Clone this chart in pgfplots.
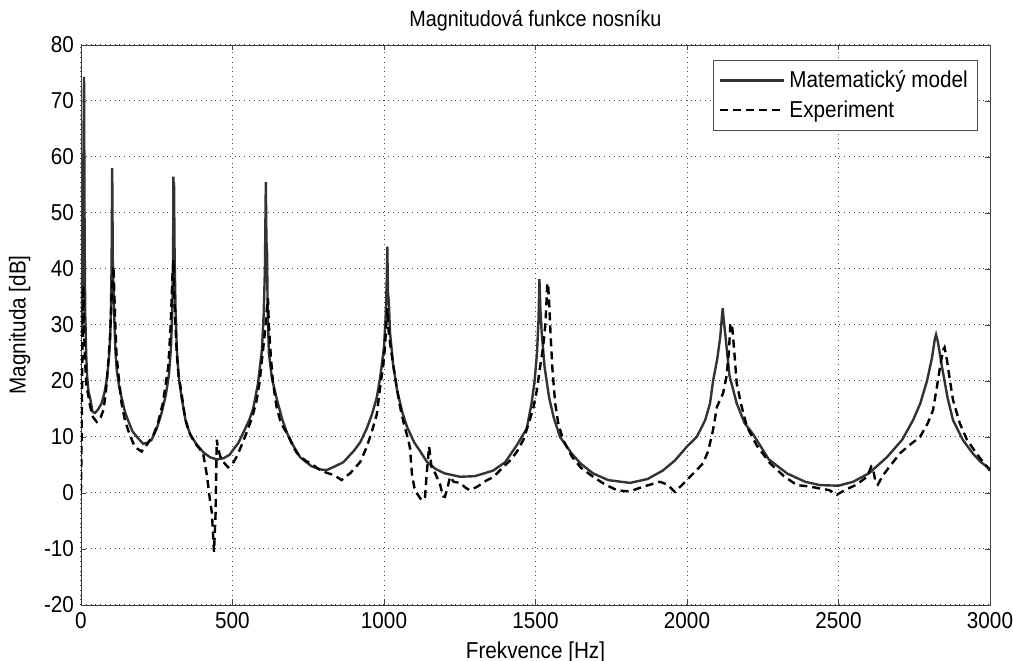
\documentclass[border=0pt]{standalone}
\usepackage{fontspec}
\setmainfont{Liberation Sans}[FakeStretch=0.9]
\usepackage{pgfplots}
\pgfplotsset{compat=1.18}

\definecolor{modelgray}{gray}{0.2}

\begin{document}
\begin{tikzpicture}
\begin{axis}[
    scale only axis,
    width=454.5pt, height=280pt,
    xmin=0, xmax=3000,
    ymin=-20, ymax=80,
    xtick={0,500,...,3000},
    ytick={-20,-10,...,80},
    /pgf/number format/assume math mode=true,
    /pgf/number format/set thousands separator={},
    ticklabel style={font=\fontsize{11.5}{13}\selectfont},
    label style={font=\fontsize{11.5}{13}\selectfont},
    title style={font=\fontsize{11}{13}\selectfont, yshift=-2.5pt},
    title={Magnitudová funkce nosníku},
    xlabel={Frekvence [Hz]},
    ylabel={Magnituda [dB]},
    axis line style={black!75},
    tick style={black!75},
    tick align=inside,
    major tick length=2.5pt,
    grid=major,
    major grid style={dotted, black!70, line width=0.5pt},
    legend style={at={(0.987,0.973)}, anchor=north east, draw=black!70,
        font=\fontsize{11.5}{13}\selectfont, cells={anchor=west},
        row sep=1pt, inner sep=3pt},
    legend image code/.code={\draw[#1] (0pt,0pt) -- (32pt,0pt);},
]
\addplot[modelgray, line width=1.2pt] coordinates {
(0,39) (3,28) (6,45) (8,60) (10,74.3) (12,45) (14,32) (17,25) (20,21) (25,18)
(30,17) (38,14.5) (46,14.3) (55,14.8) (68,16) (78,18) (85,20.2) (92,24) (96,27.5)
(99,33) (101,41) (103,58) (105,41) (108,35) (110,31) (114,25) (118,22) (126,19)
(134,17) (145,14.5) (155,13) (170,11) (188,9.8) (205,8.8) (220,9) (233,9.5)
(250,11.5) (266,14.3) (280,17.5) (290,21) (297,26) (301,32) (304,42) (305,56.5)
(306,45) (307,55.5) (309,42) (312,33) (316,26) (322,21) (332,17) (345,13)
(360,10.5) (380,8.8) (403,7.3) (425,6.4) (448,6) (470,6.2) (490,6.8) (502,7.7)
(520,9) (535,10.7) (555,13) (568,15) (584,19.5) (597,25.5) (603,32) (607,40)
(610,55.5) (612,45) (614,43) (616,33) (620,25) (630,20.5) (647,16.6) (665,13)
(680,10.7) (700,8.5) (723,6.4) (760,4.8) (789,4.2) (811,4.1) (832,4.6) (866,5.5)
(900,7.5) (921,9) (943,11.5) (960,14) (976,17) (987,20.5) (1000,26) (1006,32)
(1009,38) (1011,44) (1013,36) (1016,34) (1020,28.6) (1030,23) (1043,18.4)
(1060,14.5) (1076,11.8) (1100,9) (1119,7.5) (1141,5.6) (1170,4.3) (1200,3.5)
(1251,2.9) (1300,3) (1360,4) (1400,5.5) (1438,8.5) (1471,11.5) (1487,16)
(1497,20) (1505,25) (1510,31) (1512,36) (1513,38.2) (1516,33) (1520,29)
(1530,22.5) (1545,17) (1560,13.5) (1581,10) (1620,7) (1650,5.2) (1690,3.5)
(1740,2.3) (1812,1.8) (1870,2.5) (1920,4) (1960,5.8) (2000,8.3) (2032,10)
(2060,13) (2076,16) (2086,20) (2100,24) (2110,28) (2116,32) (2118,33) (2121,31)
(2127,28) (2140,21) (2164,16) (2190,12.5) (2218,10.5) (2270,6) (2330,3.5)
(2390,2) (2439,1.4) (2500,1.3) (2548,2) (2600,3.5) (2660,6.4) (2710,9.5)
(2746,13) (2770,16) (2792,20) (2808,24) (2818,27.5) (2822,28.3) (2828,27)
(2840,23) (2860,17) (2878,13) (2910,9.5) (2944,7) (2970,5.5) (3000,4.3)
};
\addlegendentry{Matematický model}
\addplot[black, line width=1.2pt, dash pattern=on 4pt off 2.5pt] coordinates {
(0,0) (2,10) (4,22) (6,32) (8,37) (10,30) (13,24) (18,19) (23,17.8) (30,15.5)
(40,13.5) (52,12.7) (57,13) (65,13.5) (74,14.8) (82,18) (90,23.2) (96,28)
(101,35) (104,38) (107,40.5) (110,36) (112,32) (117,25) (123,21.4) (134,16)
(145,13) (160,10.5) (178,8.2) (200,7.4) (221,8.9) (240,10.5) (254,12.5) (270,16)
(288,22.5) (296,30) (302,39) (305,41.6) (308,35) (310,32) (316,25) (322,21)
(332,17.8) (343,13.5) (354,11.2) (365,10) (376,8.9) (390,8) (403,7.1) (416,3)
(425,-1) (432,-3.6) (439,-10.5) (444,-4) (448,9.5) (452,8) (460,6.5) (469,5.6)
(485,4.6) (500,5.2) (513,6.4) (530,8.5) (546,10.7) (565,13.5) (580,16.6)
(590,20) (597,23.7) (607,28.6) (612,32) (617,34.8) (620,30) (627,24) (634,19.6)
(645,15.5) (657,13) (670,11.5) (680,10.7) (690,9.5) (700,8.3) (713,7.1)
(740,5.8) (766,5) (789,4.1) (811,3.6) (835,3.2) (860,2.3) (875,3) (888,3.5)
(921,5.5) (943,8.2) (960,11) (976,14) (990,20) (997,22.5) (1003,26) (1006,28.6)
(1011,33) (1015,29) (1022,26) (1030,23) (1043,18.5) (1053,15.4) (1065,12.5)
(1080,9.5) (1086,8) (1092,3.5) (1100,1) (1108,0) (1120,-1) (1129,-1.3)
(1135,-1) (1141,3.5) (1149,8.3) (1157,4.5) (1165,4) (1174,2.9) (1185,1.5)
(1195,-0.6) (1201,-0.7) (1210,1) (1218,2.9) (1230,2) (1251,1.8) (1270,0.9)
(1284,0.5) (1310,1.2) (1340,2.3) (1360,2.8) (1393,4.6) (1420,6) (1440,7.5)
(1460,9.5) (1475,12) (1492,15) (1505,18.5) (1515,22.5) (1525,26) (1533,30.3)
(1539,37.5) (1542,37) (1546,33) (1550,28) (1556,22) (1565,16) (1575,12.5)
(1591,9.5) (1620,6.5) (1650,4.5) (1690,2.9) (1730,1.5) (1769,0.5) (1800,0.3)
(1822,0.5) (1860,1.2) (1911,2) (1935,1.5) (1960,0.2) (1985,1.5) (2010,2.9)
(2030,4) (2053,5.3) (2070,7.5) (2085,11) (2099,15.4) (2119,17.8) (2130,20.7)
(2138,25) (2143,30) (2148,30.3) (2152,28) (2160,22.5) (2164,19.6) (2180,15.5)
(2198,11.8) (2230,8.5) (2274,5.3) (2320,3) (2363,1.4) (2400,1.2) (2429,0.9)
(2470,0.5) (2495,-0.3) (2520,0.5) (2560,1.5) (2594,2.9) (2608,4.7) (2614,4.3)
(2622,2) (2630,1.5) (2645,3) (2660,4.1) (2680,5.5) (2703,7.1) (2740,8.8)
(2769,10) (2795,12.5) (2812,14.8) (2825,19) (2835,22.5) (2845,25.5) (2850,26)
(2858,23.7) (2868,20) (2878,16.6) (2900,12.5) (2924,9.5) (2950,7.5) (2970,6)
(2990,4.7) (3000,4)
};
\addlegendentry{Experiment}
\end{axis}
\pgfresetboundingbox
\path ([shift={(-40.5pt,-28pt)}]current axis.south west)
    rectangle ([shift={(11.5pt,22.5pt)}]current axis.north east);
\end{tikzpicture}
\end{document}
